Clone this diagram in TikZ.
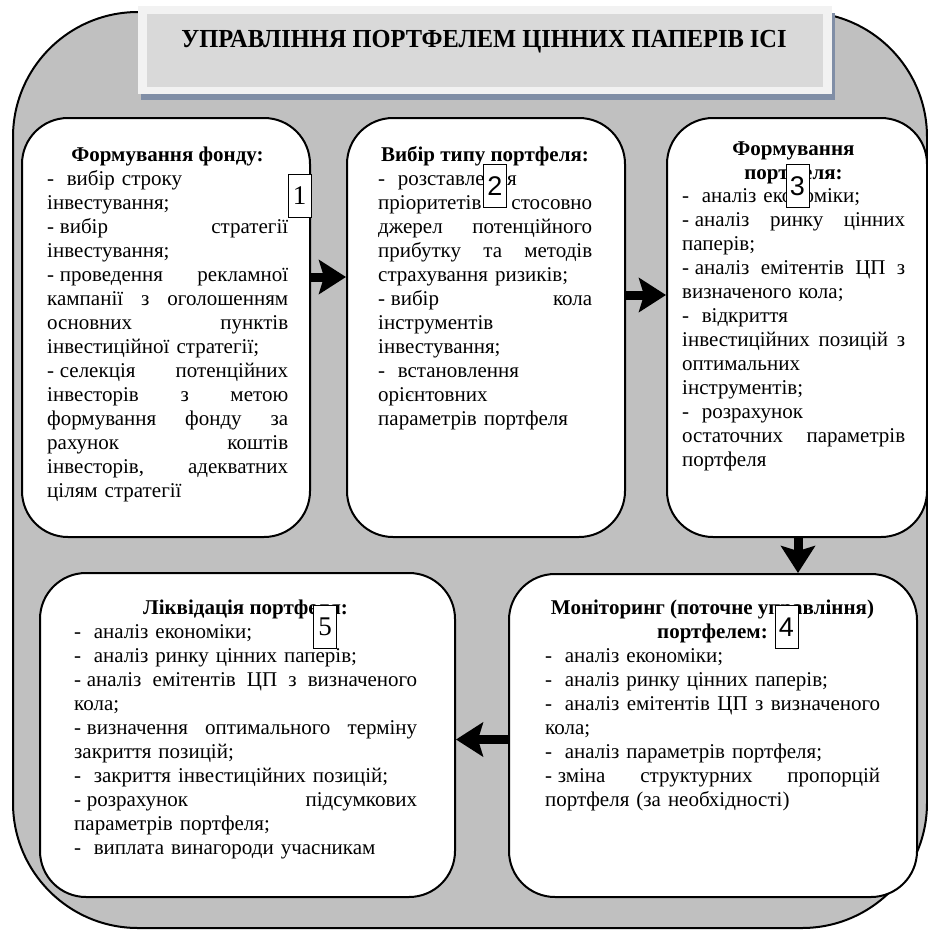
\documentclass[tikz,border=0pt]{standalone}
\usepackage{fontspec}
\usepackage{graphicx}
\setmainfont{Liberation Serif}
\newfontfamily\numsans{Liberation Sans}
\usetikzlibrary{arrows.meta}
\definecolor{outergrey}{RGB}{192,192,192}
\definecolor{titlegrey}{RGB}{217,217,217}
\definecolor{framegrey}{RGB}{242,242,242}
\definecolor{shadowblue}{RGB}{128,142,166}
\newcommand\bodyfont{\rmfamily\fontsize{21}{24}\selectfont}
\newcommand\headfont{\rmfamily\fontsize{21}{24}\selectfont\bfseries}
\newdimen\jw
\newcommand\J[1]{\leavevmode\hbox to \jw{\spaceskip=0.25em plus 1fil\relax #1}}
\newcommand\dd{-\hspace{0.6em}}
\newcommand\ds{-\hspace{0.27em}}
\tikzset{
  boxshape/.style={draw, line width=2pt, rounded corners=46pt, fill=white, inner sep=0pt},
  bodytext/.style={anchor=north west, inner sep=0pt, align=left, font=\bodyfont, text width=#1},
  headtext/.style={anchor=base, inner sep=0pt, align=center, font=\headfont},
  numbox/.style={draw, line width=1pt, fill=white, inner sep=0pt, minimum width=23pt, minimum height=43pt, font=\rmfamily\fontsize{27}{30}\selectfont},
  numsansbox/.style={numbox, font=\numsans\fontsize{27}{30}\selectfont},
  arr/.style={line width=9pt, -{Stealth[length=27pt,width=34pt,inset=5pt]}},
}
\begin{document}
\begin{tikzpicture}[x=1pt,y=-1pt]
\useasboundingbox (0,0) rectangle (928,930);
% outer shape
\node[draw, line width=2pt, fill=outergrey, rounded corners=125pt, minimum width=914pt, minimum height=916pt, inner sep=0pt] (outer) at (470,470) {};
% title
\node[fill=shadowblue, minimum width=694pt, minimum height=87pt, inner sep=0pt] (tshadow) at (488,56.5) {};
\node[fill=framegrey, minimum width=694pt, minimum height=88pt, inner sep=0pt] (tframe) at (485,50) {};
\node[fill=titlegrey, minimum width=676pt, minimum height=73pt, inner sep=0pt] (tinner) at (485,50.5) {};
\node[anchor=base, inner sep=0pt, font=\rmfamily\fontsize{26}{30}\selectfont\bfseries] (title) at (484,47) {\scalebox{0.94}[1]{УПРАВЛІННЯ ПОРТФЕЛЕМ ЦІННИХ ПАПЕРІВ ІСІ}};
% boxes
\node[boxshape, minimum width=288pt, minimum height=419pt] (b1) at (166,327.5) {};
\node[boxshape, minimum width=278pt, minimum height=419pt] (b2) at (486,327.5) {};
\node[boxshape, minimum width=260pt, minimum height=419pt] (b3) at (797,327.5) {};
\node[boxshape, minimum width=408pt, minimum height=323pt] (b4) at (713,735.5) {};
\node[boxshape, minimum width=415pt, minimum height=324pt] (b5) at (247.5,735) {};
% box 1 text
\node[headtext] (h1) at (167.5,161) {Формування фонду:};
\global\jw=241pt\relax
\node[bodytext=241pt] (t1) at (47,168.2) {\strut\dd вибір строку\\
інвестування;\\
\J{\ds вибір стратегії}\\
інвестування;\\
\J{\ds проведення рекламної}\\
\J{кампанії з оголошенням}\\
\J{основних пунктів}\\
інвестиційної стратегії;\\
\J{\ds селекція потенційних}\\
\J{інвесторів з метою}\\
\J{формування фонду за}\\
\J{рахунок коштів}\\
\J{інвесторів, адекватних}\\
цілям стратегії};
% box 2 text
\node[headtext] (h2) at (485,161) {Вибір типу портфеля:};
\global\jw=214pt\relax
\node[bodytext=214pt] (t2) at (378,168.2) {\strut\dd розставлення\\
\J{пріоритетів стосовно}\\
\J{джерел потенційного}\\
\J{прибутку та методів}\\
страхування ризиків;\\
\J{\ds вибір кола}\\
інструментів\\
інвестування;\\
\dd встановлення\\
орієнтовних\\
параметрів портфеля};
% box 3 text
\node[headtext] (h3) at (793.5,179) {Формування\\портфеля:};
\global\jw=223pt\relax
\node[bodytext=223pt] (t3) at (682,185.7) {\strut\dd аналіз економіки;\\
\J{\ds аналіз ринку цінних}\\
паперів;\\
\J{\ds аналіз емітентів ЦП з}\\
визначеного кола;\\
\dd відкриття\\
\J{інвестиційних позицій з}\\
оптимальних\\
інструментів;\\
\dd розрахунок\\
\J{остаточних параметрів}\\
портфеля};
% box 4 text
\node[headtext] (h4) at (712.5,638) {Моніторинг (поточне управління)\\портфелем:};
\global\jw=335pt\relax
\node[bodytext=335pt] (t4) at (545,645.2) {\strut\dd аналіз економіки;\\
\dd аналіз ринку цінних паперів;\\
\J{\dd аналіз емітентів ЦП з визначеного}\\
кола;\\
\dd аналіз параметрів портфеля;\\
\J{\ds зміна структурних пропорцій}\\
портфеля (за необхідності)};
% box 5 text
\node[headtext] (h5) at (245.5,614) {Ліквідація портфеля:};
\global\jw=343pt\relax
\node[bodytext=343pt] (t5) at (74,621.2) {\strut\dd аналіз економіки;\\
\dd аналіз ринку цінних паперів;\\
\J{\ds аналіз емітентів ЦП з визначеного}\\
кола;\\
\J{\ds визначення оптимального терміну}\\
закриття позицій;\\
\dd закриття інвестиційних позицій;\\
\J{\ds розрахунок підсумкових}\\
параметрів портфеля;\\
\dd виплата винагороди учасникам};
% number boxes
\node[numbox] (n1) at (299.5,195.5) {1};
\node[numsansbox] (n2) at (495,186) {2};
\node[numsansbox] (n3) at (797.5,186) {3};
\node[numsansbox] (n4) at (786.5,627) {4};
\node[numbox] (n5) at (325,627) {5};
% arrows
\coordinate (ya) at (0,277);
\coordinate (yb) at (0,295);
\coordinate (xc) at (798,0);
\coordinate (yd) at (0,739.5);
\draw[arr] (b1.east |- ya) -- (b2.west |- ya);
\draw[arr] (b2.east |- yb) -- (b3.west |- yb);
\draw[arr] (xc |- b3.south) -- (xc |- b4.north);
\draw[arr] (b4.west |- yd) -- (b5.east |- yd);
\end{tikzpicture}
\end{document}
